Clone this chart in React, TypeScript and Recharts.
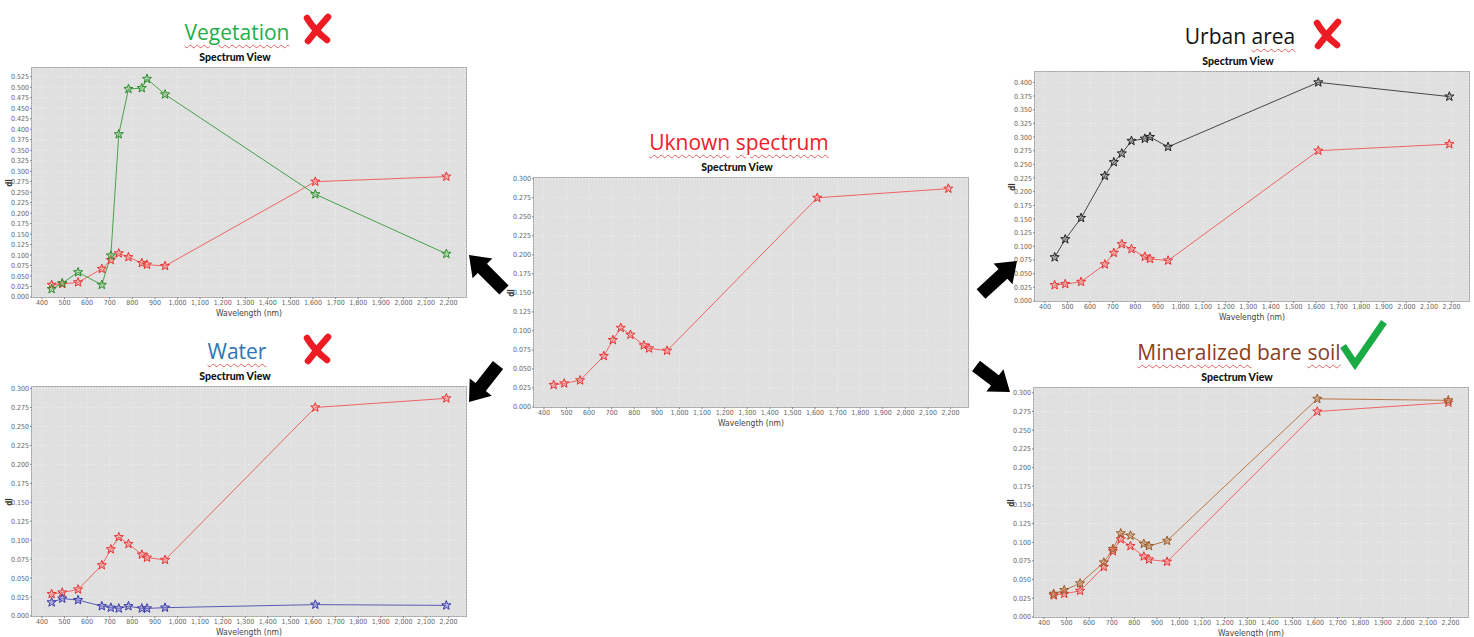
import { LineChart, Line, XAxis, YAxis, CartesianGrid } from 'recharts';

// Sentinel-2 band centres (nm) and reflectance
const WAVELENGTHS = [443, 490, 560, 665, 705, 740, 783, 842, 865, 945, 1610, 2190];
const UNKNOWN = [0.029, 0.031, 0.035, 0.067, 0.088, 0.104, 0.095, 0.081, 0.077, 0.074, 0.275, 0.287];
const VEGETATION = [0.019, 0.033, 0.059, 0.029, 0.099, 0.388, 0.496, 0.498, 0.520, 0.483, 0.245, 0.103];
const URBAN = [0.080, 0.113, 0.152, 0.229, 0.254, 0.270, 0.293, 0.297, 0.300, 0.282, 0.400, 0.374];
const WATER = [0.018, 0.023, 0.021, 0.013, 0.011, 0.010, 0.013, 0.010, 0.010, 0.011, 0.015, 0.014];
const SOIL = [0.031, 0.036, 0.045, 0.073, 0.091, 0.112, 0.109, 0.098, 0.095, 0.102, 0.292, 0.290];

const X_TICKS = [400, 500, 600, 700, 800, 900, 1000, 1100, 1200, 1300, 1400, 1500, 1600, 1700, 1800, 1900, 2000, 2100, 2200];
const Y_TICKS_300 = [0, 0.025, 0.05, 0.075, 0.1, 0.125, 0.15, 0.175, 0.2, 0.225, 0.25, 0.275, 0.3];
const Y_TICKS_400 = [0, 0.025, 0.05, 0.075, 0.1, 0.125, 0.15, 0.175, 0.2, 0.225, 0.25, 0.275, 0.3, 0.325, 0.35, 0.375, 0.4];
const Y_TICKS_525 = [0, 0.025, 0.05, 0.075, 0.1, 0.125, 0.15, 0.175, 0.2, 0.225, 0.25, 0.275, 0.3, 0.325, 0.35, 0.375, 0.4, 0.425, 0.45, 0.475, 0.5, 0.525];

const PLOT_W = 434, PLOT_H = 229, Y_AXIS_W = 30, X_AXIS_H = 14, PAD_TOP = 6;
const TICK_FONT = { fontSize: 7, fill: '#666', fontFamily: '"DejaVu Sans Condensed", "DejaVu Sans", sans-serif' };
const TITLE_FONT = '"Open Sans", "Noto Sans", sans-serif';
const WAVY = { textDecoration: 'underline wavy #e06060', textDecorationThickness: '1px', textUnderlineOffset: '4px' } as const;

const RED = { line: '#f06464', star: '#e83434', fill: 'rgba(255,130,130,0.45)' };

type Style = { line: string; star: string; fill: string };
type Panel = {
    key: string; plotLeft: number; plotTop: number; yMax: number; yTicks: number[];
    title: { text: string; wavy: boolean }[]; titleColor: string;
    values?: number[]; style?: Style;
};

const PANELS: Panel[] = [
    { key: 'veg', plotLeft: 32, plotTop: 68, yMax: 0.546, yTicks: Y_TICKS_525, titleColor: '#1fae4b',
        title: [{ text: 'Vegetation', wavy: true }], values: VEGETATION,
        style: { line: '#4aa24a', star: '#2e8b2e', fill: 'rgba(120,200,120,0.45)' } },
    { key: 'unk', plotLeft: 534, plotTop: 178, yMax: 0.301, yTicks: Y_TICKS_300, titleColor: '#f0202a',
        title: [{ text: 'Uknown', wavy: true }, { text: ' ', wavy: false }, { text: 'spectrum', wavy: true }] },
    { key: 'urb', plotLeft: 1035, plotTop: 72, yMax: 0.419, yTicks: Y_TICKS_400, titleColor: '#111',
        title: [{ text: 'Urban ', wavy: false }, { text: 'area', wavy: true }], values: URBAN,
        style: { line: '#474747', star: '#222', fill: 'rgba(120,120,120,0.45)' } },
    { key: 'wat', plotLeft: 32, plotTop: 387, yMax: 0.302, yTicks: Y_TICKS_300, titleColor: '#2e75b6',
        title: [{ text: 'Water', wavy: true }], values: WATER,
        style: { line: '#5a5ab4', star: '#3a3aa8', fill: 'rgba(130,130,220,0.45)' } },
    { key: 'soil', plotLeft: 1034, plotTop: 388, yMax: 0.3065, yTicks: Y_TICKS_300, titleColor: '#8a3f1a',
        title: [{ text: 'Mineralized', wavy: true }, { text: ' bare ', wavy: false }, { text: 'soil', wavy: true }], values: SOIL,
        style: { line: '#b87848', star: '#9a5a2a', fill: 'rgba(200,140,90,0.5)' } },
];

function Star({ cx, cy, stroke, fill }: { cx?: number; cy?: number; stroke: string; fill: string }) {
    if (cx == null || cy == null) return null;
    const pts: string[] = [];
    for (let k = 0; k < 10; k++) {
        const r = k % 2 ? 2.0 : 4.8;
        const a = -Math.PI / 2 + (k * Math.PI) / 5;
        pts.push(`${cx + r * Math.cos(a)},${cy + r * Math.sin(a)}`);
    }
    return <polygon points={pts.join(' ')} stroke={stroke} strokeWidth={1} fill={fill} />;
}

function SpectrumPanel({ p }: { p: Panel }) {
    const data = WAVELENGTHS.map((w, i) => ({ w, unknown: UNKNOWN[i], ref: p.values ? p.values[i] : null }));
    const s = p.style;
    return (
        <>
            <div style={{ position: 'absolute', left: p.plotLeft + 205 - 160, width: 320, top: p.plotTop - 49, textAlign: 'center',
                fontFamily: TITLE_FONT, fontSize: 21, lineHeight: '26px', color: p.titleColor, whiteSpace: 'pre' }}>
                {p.title.map((t, i) => <span key={i} style={t.wavy ? WAVY : undefined}>{t.text}</span>)}
            </div>
            <div style={{ position: 'absolute', left: p.plotLeft + 203 - 60, width: 120, top: p.plotTop - 17, textAlign: 'center',
                fontFamily: 'Lato, sans-serif', fontWeight: 900, fontSize: 10.5, lineHeight: '12px', color: '#111' }}>
                Spectrum View
            </div>
            <div style={{ position: 'absolute', left: p.plotLeft - 1, top: p.plotTop - 1, width: PLOT_W + 2, height: PLOT_H + 2,
                boxSizing: 'border-box', border: '1.5px solid #a9a9a9', background: '#e0e0e0' }} />
            <div style={{ position: 'absolute', left: p.plotLeft - Y_AXIS_W, top: p.plotTop - PAD_TOP }}>
                <LineChart width={Y_AXIS_W + PLOT_W + 2} height={PAD_TOP + PLOT_H + X_AXIS_H} data={data}
                    margin={{ top: PAD_TOP, right: 2, left: 0, bottom: 0 }}>
                    <CartesianGrid stroke="#ffffff" strokeOpacity={0.45} strokeDasharray="1 2" />
                    <XAxis dataKey="w" type="number" domain={[356, 2277]} ticks={X_TICKS} interval={0} allowDataOverflow
                        tickFormatter={(v: number) => v.toLocaleString('en-US')} tick={TICK_FONT}
                        tickSize={2} tickMargin={1} axisLine={false} tickLine={{ stroke: '#888' }} height={X_AXIS_H} />
                    <YAxis type="number" domain={[0, p.yMax]} ticks={p.yTicks} interval={0} allowDataOverflow
                        tickFormatter={(v: number) => v.toFixed(3)} tick={TICK_FONT}
                        tickSize={2} tickMargin={1} axisLine={false} tickLine={{ stroke: '#888' }} width={Y_AXIS_W} />
                    <Line dataKey="unknown" stroke={RED.line} strokeWidth={1} isAnimationActive={false}
                        dot={(d: any) => <Star key={d.index} cx={d.cx} cy={d.cy} stroke={RED.star} fill={RED.fill} />} />
                    {s && (
                        <Line dataKey="ref" stroke={s.line} strokeWidth={1} isAnimationActive={false}
                            dot={(d: any) => <Star key={d.index} cx={d.cx} cy={d.cy} stroke={s.star} fill={s.fill} />} />
                    )}
                </LineChart>
            </div>
            <div style={{ position: 'absolute', left: p.plotLeft + PLOT_W / 2 - 60, width: 120, top: p.plotTop + PLOT_H + 11,
                textAlign: 'center', fontFamily: TICK_FONT.fontFamily, fontSize: 8.5, lineHeight: '10px', color: '#444' }}>
                Wavelength (nm)
            </div>
            <div style={{ position: 'absolute', left: p.plotLeft - 22 - 10, width: 20, top: p.plotTop + PLOT_H / 2 - 5,
                textAlign: 'center', fontFamily: TICK_FONT.fontFamily, fontWeight: 700, fontSize: 8, lineHeight: '10px',
                color: '#333', transform: 'rotate(-90deg)' }}>
                dl
            </div>
        </>
    );
}

function Arrow({ x1, y1, x2, y2 }: { x1: number; y1: number; x2: number; y2: number }) {
    const L = Math.hypot(x2 - x1, y2 - y1);
    const ang = (Math.atan2(y2 - y1, x2 - x1) * 180) / Math.PI;
    const hw = 6.5, hh = 14, hl = 19;
    const pts = [[0, -hw], [L - hl, -hw], [L - hl, -hh], [L, 0], [L - hl, hh], [L - hl, hw], [0, hw]];
    return <polygon points={pts.map(q => q.join(',')).join(' ')} fill="#000" transform={`translate(${x1},${y1}) rotate(${ang})`} />;
}

function Cross({ cx, cy }: { cx: number; cy: number }) {
    return (
        <g stroke="#ed1c24" strokeWidth={6.5} strokeLinecap="round" fill="none">
            <path d={`M${cx - 10},${cy - 11} Q${cx - 3},${cy + 1} ${cx + 10},${cy + 11}`} />
            <path d={`M${cx + 11},${cy - 12} Q${cx + 1},${cy - 1} ${cx - 9},${cy + 12}`} />
        </g>
    );
}

export default function App() {
    return (
        <div style={{ position: 'absolute', left: 0, top: 0, width: 1474, height: 637, overflow: 'hidden', background: '#fff' }}>
            {PANELS.map(p => <SpectrumPanel key={p.key} p={p} />)}
            <svg width={1474} height={637} style={{ position: 'absolute', left: 0, top: 0, pointerEvents: 'none' }}>
                <Arrow x1={504} y1={290} x2={469} y2={255} />
                <Arrow x1={498} y1={365} x2={469} y2={402} />
                <Arrow x1={981} y1={294} x2={1017} y2={261} />
                <Arrow x1={976} y1={366} x2={1010} y2={392} />
                <Cross cx={317} cy={29} />
                <Cross cx={317} cy={349} />
                <Cross cx={1327} cy={34} />
                <polyline points="1343,346 1355,364 1384,322" fill="none" stroke="#1aab45" strokeWidth={7} strokeLinejoin="miter" />
            </svg>
        </div>
    );
}
